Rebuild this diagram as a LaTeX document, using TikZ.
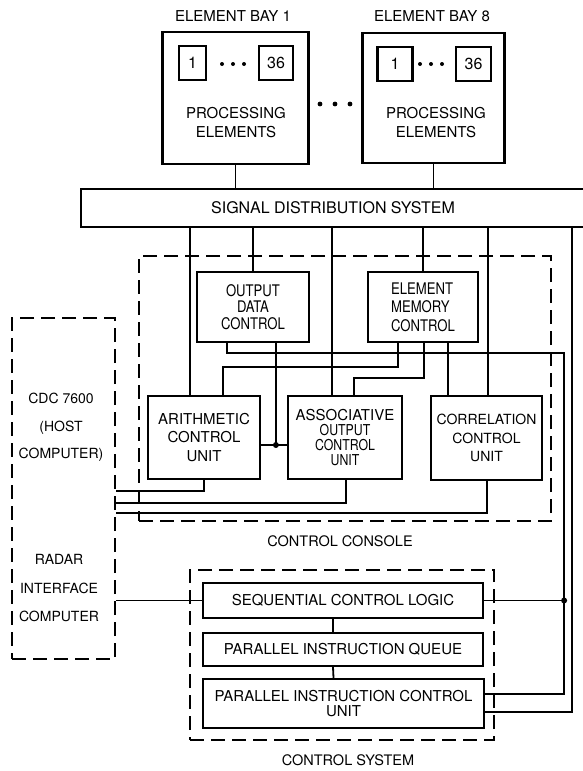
\documentclass[tikz,border=0pt]{standalone}
\usepackage{fontspec}
\setmainfont{TeX Gyre Heros}
\newfontfamily\narrowfont[FakeStretch=0.82]{TeX Gyre Heros}
\usetikzlibrary{calc}
\newcommand\setfs[2]{\fontsize{#1}{#2}\selectfont}
\tikzset{
  box/.style={draw, line width=2.2pt, inner sep=0pt, align=center},
  dbox/.style={draw, line width=2.5pt, dash pattern=on 14pt off 7pt, inner sep=0pt},
  wire/.style={line width=1.8pt},
  txt/.style={inner sep=0pt, align=center},
  jdot/.style={circle, fill, inner sep=0pt, minimum size=6pt},
}
\begin{document}
\begin{tikzpicture}[x=1pt,y=-1pt]
\useasboundingbox (0,0) rectangle (582,771);
\fill[white] (0,0) rectangle (582,771);

% element bays
\node[txt, font=\setfs{15}{18}] (lbay1) at (233,16) {ELEMENT BAY 1};
\node[txt, font=\setfs{15}{18}] (lbay8) at (432,16) {ELEMENT BAY 8};
\node[box, minimum width=146pt, minimum height=132pt] (bay1) at (235.5,98) {};
\node[box, minimum width=142pt, minimum height=130pt] (bay8) at (433.5,98) {};
\node[box, minimum width=27pt, minimum height=34pt, font=\setfs{16}{18}] (pe1a) at (192.5,63) {1};
\node[box, minimum width=34pt, minimum height=34pt, font=\setfs{16}{18}] (pe1b) at (276,63) {36};
\node[box, minimum width=35pt, minimum height=34pt, font=\setfs{16}{18}] (pe8a) at (395,64) {1};
\node[box, minimum width=35pt, minimum height=34pt, font=\setfs{16}{18}] (pe8b) at (473.5,64) {36};
\foreach \x in {222,233,244} \fill (\x,64) circle (2pt);
\foreach \x in {420,431,442} \fill (\x,64) circle (2pt);
\foreach \x in {320,335,350} \fill (\x,104) circle (2.4pt);
\node[txt, font=\setfs{15}{19}] (pe1t) at (236,122.5) {PROCESSING\\ELEMENTS};
\node[txt, font=\setfs{15}{19}] (pe8t) at (436,122.5) {PROCESSING\\ELEMENTS};

% signal distribution system
\node[box, minimum width=504pt, minimum height=38pt, font=\setfs{16}{18}] (sds) at (333,208) {SIGNAL DISTRIBUTION SYSTEM};

% control console
\node[dbox, minimum width=412pt, minimum height=265pt] (cc) at (345,388.5) {};
\node[box, minimum width=112pt, minimum height=70pt, font=\narrowfont\setfs{16}{16.5}] (odc) at (253,307) {OUTPUT\\DATA\\CONTROL};
\node[box, minimum width=110pt, minimum height=70pt, align=left, font=\narrowfont\setfs{16}{18.5}] (emc) at (423,307) {ELEMENT\\MEMORY\\CONTROL};
\node[box, minimum width=112pt, minimum height=83pt, font=\setfs{15}{18.5}] (acu) at (204,437.5) {ARITHMETIC\\CONTROL\\UNIT};
\node[box, minimum width=114pt, minimum height=83pt, font=\narrowfont\setfs{15}{15}] (aocu) at (345,437.5) {{\normalfont\setfs{15}{15}ASSOCIATIVE}\\OUTPUT\\CONTROL\\UNIT};
\node[box, minimum width=111pt, minimum height=84pt, font=\setfs{14}{18.5}] (ccu) at (486.5,438) {CORRELATION\\CONTROL\\UNIT};
\node[txt, font=\setfs{14.5}{18}] (ccl) at (340,541) {CONTROL CONSOLE};

% host / radar interface
\node[dbox, minimum width=103pt, minimum height=341pt] (host) at (63.5,488.5) {};
\node[txt, font=\setfs{14}{27.5}] (hostt) at (61,427.5) {CDC 7600\\(HOST\\COMPUTER)};
\node[txt, font=\setfs{14}{28.5}] (radt) at (59,588.5) {RADAR\\INTERFACE\\COMPUTER};

% control system
\node[dbox, minimum width=304pt, minimum height=170pt] (cs) at (342,655) {};
\node[box, minimum width=280pt, minimum height=35pt, font=\setfs{15}{18}] (scl) at (343,600.5) {SEQUENTIAL CONTROL LOGIC};
\node[box, minimum width=280pt, minimum height=33pt, font=\setfs{15}{18}] (piq) at (343,649.5) {PARALLEL INSTRUCTION QUEUE};
\node[box, minimum width=281pt, minimum height=49pt, font=\setfs{15}{15.5}] (picu) at (343.5,703.5) {PARALLEL INSTRUCTION CONTROL\\UNIT};
\node[txt, font=\setfs{14.5}{18}] (csl) at (348,760) {CONTROL SYSTEM};

% connection points
\coordinate (acuT1) at ($(acu.north west)+(43,0)$);
\coordinate (acuT2) at ($(acu.north west)+(76,0)$);
\coordinate (aocuT1) at ($(aocu.north west)+(45,0)$);
\coordinate (aocuT2) at ($(aocu.north west)+(67,0)$);
\coordinate (ccuT1) at ($(ccu.north west)+(18,0)$);
\coordinate (ccuT2) at ($(ccu.north west)+(58,0)$);
\coordinate (odcB1) at ($(odc.south west)+(31,0)$);
\coordinate (odcB2) at ($(odc.south west)+(80,0)$);
\coordinate (emcB1) at ($(emc.south west)+(31,0)$);
\coordinate (emcB2) at ($(emc.south west)+(57,0)$);
\coordinate (emcB3) at ($(emc.south west)+(81,0)$);
\coordinate (aocuB) at ($(aocu.south west)+(59,0)$);
\coordinate (ccuB) at ($(ccu.south west)+(57,0)$);
\coordinate (picuR1) at ($(picu.east)+(0,-9.5)$);
\coordinate (picuR2) at ($(picu.east)+(0,8.5)$);
\coordinate (sdsR) at ($(sds.south east)+(-14,0)$);
\coordinate (rbus) at ($(scl.east)+(80,0)$);
\coordinate (hbus) at ($(odcB1)+(0,10)$);
\coordinate (jrow) at ($(acu.east)+(0,7.5)$);
\coordinate (hA) at ($(host.east)+(0,2.5)$);
\coordinate (hB) at ($(host.east)+(0,14.5)$);
\coordinate (hC) at ($(host.east)+(0,24.5)$);
\coordinate (sclS) at ($(scl.south)+(-10,0)$);
\coordinate (piqN) at ($(piq.north)+(-10,0)$);
\coordinate (piqS) at ($(piq.south)+(-10,0)$);
\coordinate (picuN) at ($(picu.north)+(-10,0)$);

% connectors
\draw[wire] (bay1.south) -- (bay1.south |- sds.north);
\draw[wire] (bay8.south) -- (bay8.south |- sds.north);
\draw[wire] (acuT1) -- (acuT1 |- sds.south);
\draw[wire] (odc.north) -- (odc.north |- sds.south);
\draw[wire] (aocuT1) -- (aocuT1 |- sds.south);
\draw[wire] (emc.north) -- (emc.north |- sds.south);
\draw[wire] (ccuT2) -- (ccuT2 |- sds.south);
\draw[wire] (sdsR) |- (picuR2);
\draw[wire] (odcB1) -- (hbus) -| (picuR1 -| rbus) -- (picuR1);
\draw[wire] (scl.east) -- (rbus);
\node[jdot] (j2) at (rbus) {};
\draw[wire] (jrow) -- (jrow -| aocu.west);
\draw[wire] (odcB2) -- (odcB2 |- jrow);
\node[jdot] (j1) at (odcB2 |- jrow) {};
\draw[wire] (emcB1) -- ++(0,24) -| (acuT2);
\draw[wire] (emcB2) -- ++(0,35) -| (aocuT2);
\draw[wire] (emcB3) -- (ccuT1);
\draw[wire] (acu.south) |- (hA);
\draw[wire] (aocuB) |- (hB);
\draw[wire] (ccuB) |- (hC);
\draw[wire] (host.east |- scl.west) -- (scl.west);
\draw[wire] (sclS) -- (piqN);
\draw[wire] (piqS) -- (picuN);
\end{tikzpicture}
\end{document}
